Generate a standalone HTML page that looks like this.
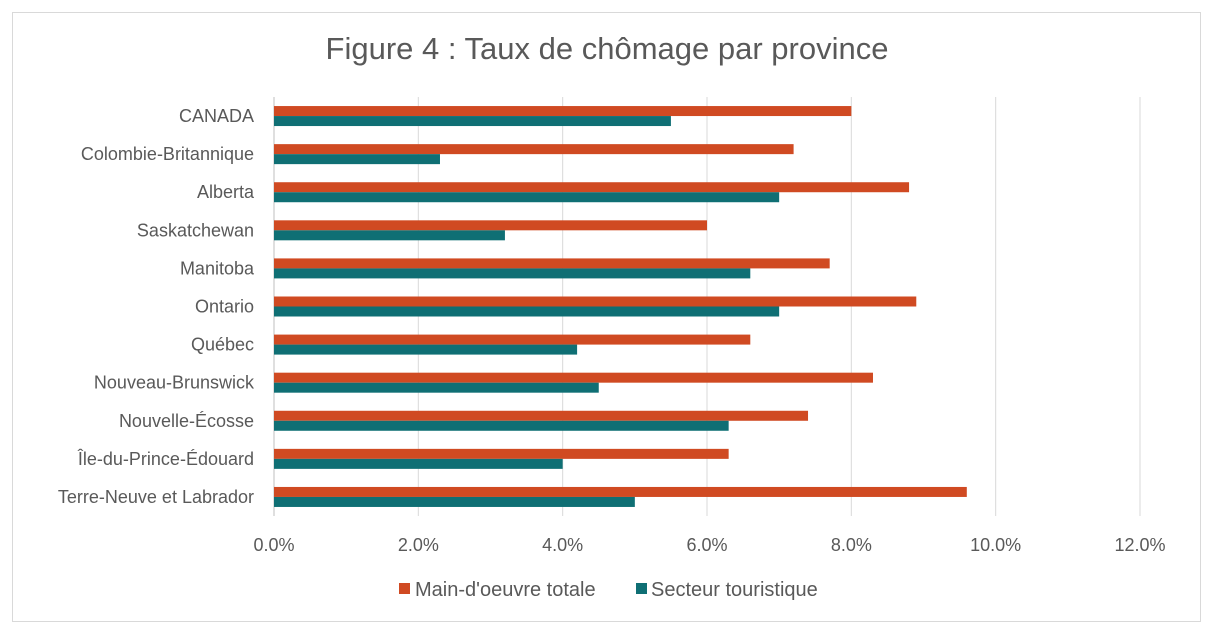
<!DOCTYPE html>
<html><head><meta charset="utf-8"><style>
body{margin:0;background:#fff;font-family:"Liberation Sans",sans-serif;}
#wrap{position:relative;width:1214px;height:637px;}
</style></head><body>
<div id="wrap">
<svg id="chart" width="1214" height="637" xmlns="http://www.w3.org/2000/svg">
<rect x="12.5" y="12.5" width="1188" height="609" fill="#fff" stroke="#d9d9d9"/>
<text x="607" y="59" text-anchor="middle" font-size="31" fill="#595959">Figure 4 : Taux de chômage par province</text>
<g id="grid"></g><g id="bars"></g><g id="ylabels"></g><g id="xlabels"></g>
<g>
<rect x="399" y="583" width="11" height="11" fill="#d04a22"/>
<text x="415" y="596" font-size="20" fill="#595959">Main-d'oeuvre totale</text>
<rect x="636" y="583" width="11" height="11" fill="#0f6f74"/>
<text x="651" y="596" font-size="20" fill="#595959">Secteur touristique</text>
</g>
</svg></div>
<script>
const categories=["CANADA","Colombie-Britannique","Alberta","Saskatchewan","Manitoba","Ontario","Québec","Nouveau-Brunswick","Nouvelle-Écosse","Île-du-Prince-Édouard","Terre-Neuve et Labrador"];
const totalValues=[8.0,7.2,8.8,6.0,7.7,8.9,6.6,8.3,7.4,6.3,9.6];
const tourismValues=[5.5,2.3,7.0,3.2,6.6,7.0,4.2,4.5,6.3,4.0,5.0];
const ticks=[0,2,4,6,8,10,12];
const tickLabels=["0.0%","2.0%","4.0%","6.0%","8.0%","10.0%","12.0%"];
(function(){
const NS="http://www.w3.org/2000/svg";
const x0=274,x1=1140,plotTop=97,plotBottom=516;
const xs=v=>x0+(v/12)*(x1-x0);
const band=(plotBottom-plotTop)/categories.length;
const yc=i=>plotTop+band*(i+0.5);
function mk(t,a,p){const e=document.createElementNS(NS,t);for(const k in a)e.setAttribute(k,a[k]);p.appendChild(e);return e;}
const g=document.getElementById('grid'),b=document.getElementById('bars'),yl=document.getElementById('ylabels'),xl=document.getElementById('xlabels');
ticks.forEach((t,i)=>{
 const l=mk('line',{x1:xs(t),x2:xs(t),y1:plotTop,y2:plotBottom,stroke:i==0?'#bfbfbf':'#d9d9d9','stroke-width':1},g);
 
 
 const tx=mk('text',{x:xs(t),y:551,'text-anchor':'middle','font-size':18,fill:'#595959'},xl);
 tx.textContent=tickLabels[i];
 
 
});
categories.forEach((c,i)=>{
 const y=yc(i);
 const r1=mk('rect',{x:x0,y:y-10,width:xs(totalValues[i])-x0,height:10,fill:'#d04a22'},b);
 
 
 const r2=mk('rect',{x:x0,y:y,width:xs(tourismValues[i])-x0,height:10,fill:'#0f6f74'},b);
 
 
 const t=mk('text',{x:254,y:y+6,'text-anchor':'end','font-size':18,fill:'#595959'},yl);
 t.textContent=c;
 
 
});
})();
</script>
</body></html>
